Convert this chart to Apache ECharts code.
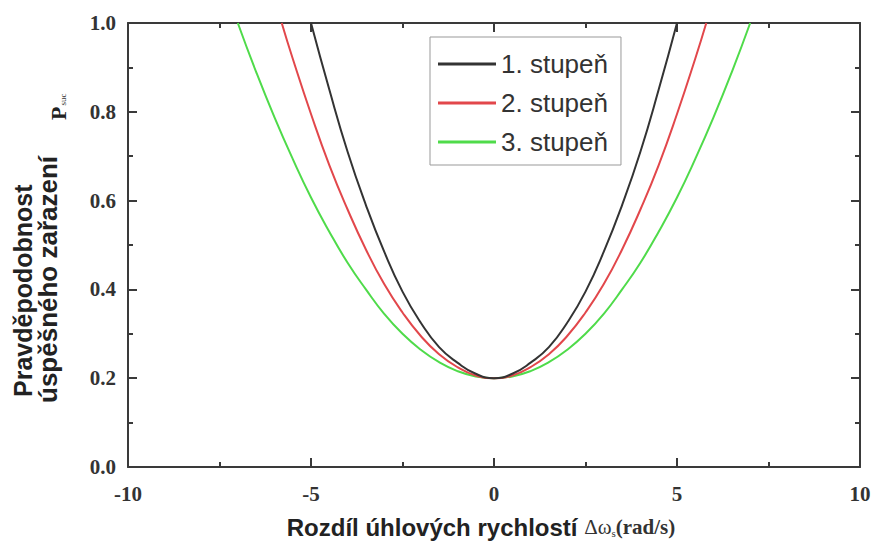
<!DOCTYPE html>
<html>
<head>
<meta charset="utf-8">
<script src="https://cdn.jsdelivr.net/npm/echarts@6/dist/echarts.min.js"></script>
<style>
html,body{margin:0;padding:0;background:#fff;}
#chart{width:874px;height:544px;}
</style>
</head>
<body>
<div id="chart"></div>
<script>
// ---- data ----
const seriesNames = ['1. stupeň', '2. stupeň', '3. stupeň'];

const xStage1 = [-5, -4.5, -4, -3.5, -3, -2.5, -2, -1.5, -1, -0.5, 0, 0.5, 1, 1.5, 2, 2.5, 3, 3.5, 4, 4.5, 5];
const yStage1 = [1.0, 0.85, 0.71, 0.59, 0.485, 0.395, 0.325, 0.27, 0.235, 0.21, 0.2, 0.21, 0.235, 0.27, 0.325, 0.395, 0.485, 0.59, 0.71, 0.85, 1.0];

const xStage2 = [-5.8, -5.5, -5, -4.5, -4, -3.5, -3, -2.5, -2, -1.5, -1, -0.5, 0, 0.5, 1, 1.5, 2, 2.5, 3, 3.5, 4, 4.5, 5, 5.5, 5.8];
const yStage2 = [1.0, 0.92, 0.795, 0.68, 0.58, 0.49, 0.412, 0.348, 0.295, 0.254, 0.225, 0.206, 0.2, 0.206, 0.225, 0.254, 0.295, 0.348, 0.412, 0.49, 0.58, 0.68, 0.795, 0.92, 1.0];

const xStage3 = [-7, -6.5, -6, -5.5, -5, -4.5, -4, -3.5, -3, -2.5, -2, -1.5, -1, -0.5, 0, 0.5, 1, 1.5, 2, 2.5, 3, 3.5, 4, 4.5, 5, 5.5, 6, 6.5, 7];
const yStage3 = [1.0, 0.89, 0.788, 0.694, 0.607, 0.53, 0.46, 0.40, 0.345, 0.30, 0.264, 0.236, 0.216, 0.204, 0.2, 0.204, 0.216, 0.236, 0.264, 0.30, 0.345, 0.40, 0.46, 0.53, 0.607, 0.694, 0.788, 0.89, 1.0];

const xTicks = [-10, -5, 0, 5, 10];
const yTicks = [0.0, 0.2, 0.4, 0.6, 0.8, 1.0];

const xAxisTitle = 'Rozdíl úhlových rychlostí ';
const yAxisTitle1 = 'Pravděpodobnost';
const yAxisTitle2 = 'úspěšného zařazení';

// ---- chart ----
const colors = ['#333333', '#e2474b', '#4fdb4a'];
const pair = (xs, ys) => xs.map((x, i) => [x, ys[i]]);

const axisLineStyle = { color: '#3a3a3a', width: 2 };
const labelFont = { fontFamily: '"Liberation Serif", "Times New Roman", serif', fontWeight: 'bold', fontSize: 21, color: '#333' };

const chart = echarts.init(document.getElementById('chart'), null, { renderer: 'svg' });
chart.setOption({
  animation: false,
  color: colors,
  grid: { left: 128, right: 14, top: 23, bottom: 74 },
  xAxis: [
    {
      type: 'value', min: xTicks[0], max: xTicks[xTicks.length - 1], interval: 5,
      position: 'bottom',
      axisLine: { show: true, onZero: false, lineStyle: axisLineStyle },
      axisTick: { show: true, inside: true, length: 9, lineStyle: axisLineStyle },
      minorTick: { show: true, splitNumber: 2, length: 5, lineStyle: { color: '#3a3a3a', width: 2 } },
      splitLine: { show: false },
      axisLabel: Object.assign({ margin: 16 }, labelFont),
      name: '{a|' + xAxisTitle + '}{g|Δω}{s|s}{b|(rad/s)}',
      nameLocation: 'middle',
      nameGap: 48,
      nameTextStyle: {
        padding: [0, 26, 0, 0],
        rich: {
          a: { fontFamily: '"Liberation Sans", Arial, sans-serif', fontWeight: 'bold', fontSize: 24, color: '#222' },
          g: { fontFamily: '"Liberation Serif", serif', fontSize: 21, color: '#333' },
          s: { fontFamily: '"Liberation Serif", serif', fontSize: 11, color: '#333', padding: [12, 0, 0, 0] },
          b: { fontFamily: '"Liberation Serif", serif', fontWeight: 'bold', fontSize: 21, color: '#333' }
        }
      }
    },
    {
      type: 'value', min: xTicks[0], max: xTicks[xTicks.length - 1], interval: 5,
      position: 'top',
      axisLine: { show: true, onZero: false, lineStyle: axisLineStyle },
      axisTick: { show: true, inside: true, length: 9, lineStyle: axisLineStyle },
      minorTick: { show: true, splitNumber: 2, length: 5, lineStyle: { color: '#3a3a3a', width: 2 } },
      splitLine: { show: false },
      axisLabel: { show: false }
    }
  ],
  yAxis: [
    {
      type: 'value', min: yTicks[0], max: yTicks[yTicks.length - 1], interval: 0.2,
      position: 'left',
      axisLine: { show: true, onZero: false, lineStyle: axisLineStyle },
      axisTick: { show: true, inside: true, length: 9, lineStyle: axisLineStyle },
      minorTick: { show: true, splitNumber: 2, length: 5, lineStyle: { color: '#3a3a3a', width: 2 } },
      splitLine: { show: false },
      axisLabel: Object.assign({ margin: 12, formatter: v => v.toFixed(1) }, labelFont)
    },
    {
      type: 'value', min: yTicks[0], max: yTicks[yTicks.length - 1], interval: 0.2,
      position: 'right',
      axisLine: { show: true, onZero: false, lineStyle: axisLineStyle },
      axisTick: { show: true, inside: true, length: 9, lineStyle: axisLineStyle },
      minorTick: { show: true, splitNumber: 2, length: 5, lineStyle: { color: '#3a3a3a', width: 2 } },
      splitLine: { show: false },
      axisLabel: { show: false }
    }
  ],
  legend: {
    orient: 'vertical',
    left: 430, top: 37,
    padding: [14, 13, 10, 8],
    itemGap: 13,
    itemWidth: 58, itemHeight: 3,
    icon: 'rect',
    backgroundColor: '#fff',
    borderColor: '#999', borderWidth: 1,
    textStyle: { fontFamily: '"Liberation Sans", Arial, sans-serif', fontSize: 26, color: '#333' },
    data: seriesNames
  },
  graphic: [
    {
      type: 'text', x: 23, y: 397, rotation: Math.PI / 2,
      style: { text: yAxisTitle1, font: 'bold 25px "Liberation Sans", Arial, sans-serif', fill: '#222', textAlign: 'left', textVerticalAlign: 'middle' }
    },
    {
      type: 'text', x: 48, y: 403, rotation: Math.PI / 2,
      style: { text: yAxisTitle2, font: 'bold 26px "Liberation Sans", Arial, sans-serif', fill: '#222', textAlign: 'left', textVerticalAlign: 'middle' }
    },
    {
      type: 'text', x: 58, y: 120, rotation: Math.PI / 2,
      style: {
        text: '{p|P}{s|suc}',
        textAlign: 'left', textVerticalAlign: 'middle',
        rich: {
          p: { font: 'bold 22px "Liberation Serif", serif', fill: '#222' },
          s: { font: '9px "Liberation Serif", serif', fill: '#333', padding: [10, 0, 0, 1] }
        }
      }
    }
  ],
  series: [
    { name: seriesNames[0], type: 'line', smooth: true, symbol: 'none', xAxisIndex: 0, yAxisIndex: 0, lineStyle: { width: 2, color: colors[0] }, data: pair(xStage1, yStage1), z: 5 },
    { name: seriesNames[1], type: 'line', smooth: true, symbol: 'none', xAxisIndex: 0, yAxisIndex: 0, lineStyle: { width: 2, color: colors[1] }, data: pair(xStage2, yStage2), z: 4 },
    { name: seriesNames[2], type: 'line', smooth: true, symbol: 'none', xAxisIndex: 0, yAxisIndex: 0, lineStyle: { width: 2, color: colors[2] }, data: pair(xStage3, yStage3), z: 3 }
  ]
});
</script>
</body>
</html>
